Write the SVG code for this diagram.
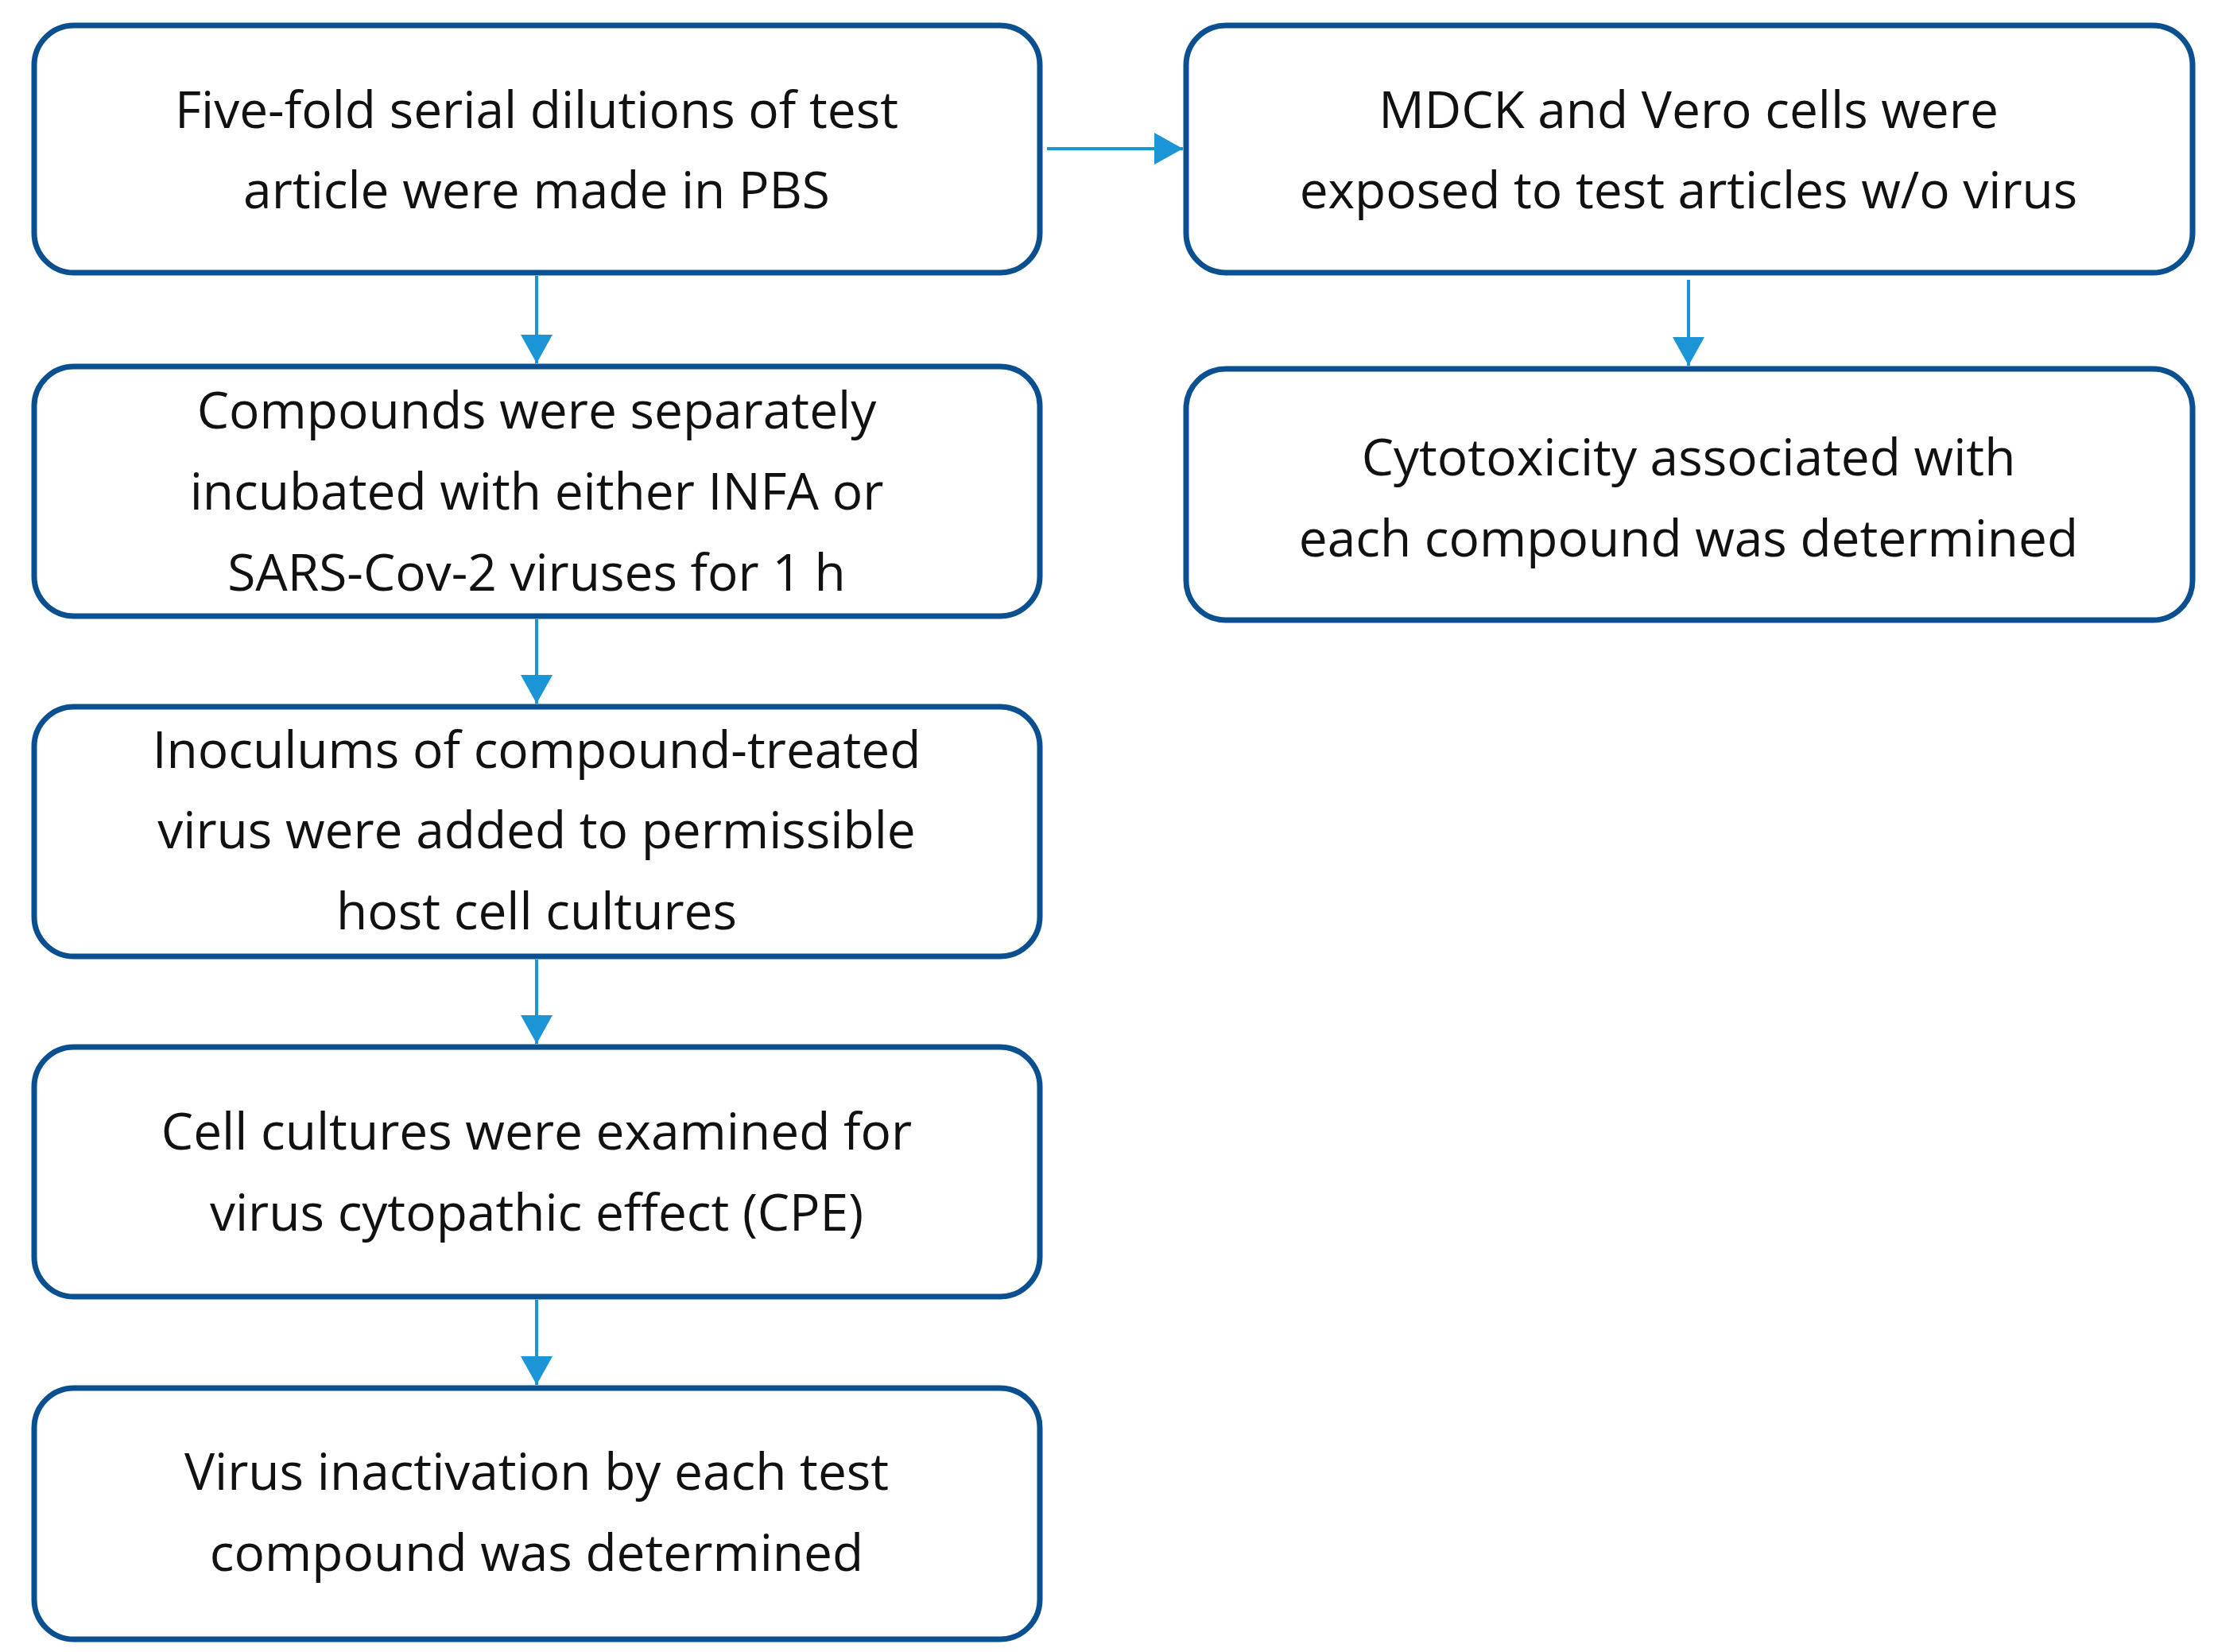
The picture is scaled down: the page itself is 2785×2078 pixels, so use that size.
<svg xmlns="http://www.w3.org/2000/svg" width="2785" height="2078" viewBox="0 0 2785 2078">
<style>
.b{fill:#fff;stroke:#0a5090;stroke-width:7}
.t{font-family:"Open Sans","Liberation Sans",sans-serif;font-size:64px;fill:#111;text-anchor:middle}
.c{stroke:#1b95d6;stroke-width:4;fill:none}
</style>
<defs><marker id="a" markerWidth="10" markerHeight="10" refX="9" refY="5" orient="auto" markerUnits="userSpaceOnUse" viewBox="0 0 10 10"><path d="M0,0 L10,5 L0,10z" fill="#1b95d6"/></marker>
<marker id="m" viewBox="0 0 10 10" refX="10" refY="5" markerWidth="36" markerHeight="40" orient="auto" markerUnits="userSpaceOnUse" preserveAspectRatio="none"><path d="M0,0 L10,5 L0,10z" fill="#1b95d6"/></marker></defs>
<rect width="2785" height="2078" fill="#fff"/>
<g id="n1"><rect class="b" x="43" y="32" width="1265" height="311" rx="50"/><text class="t" x="675" y="161">Five-fold serial dilutions of test</text><text class="t" x="675" y="262">article were made in PBS</text></g>
<g id="n2"><rect class="b" x="43" y="461" width="1265" height="314" rx="50"/><text class="t" x="675" y="539">Compounds were separately</text><text class="t" x="675" y="641">incubated with either INFA or</text><text class="t" x="675" y="743">SARS-Cov-2 viruses for 1 h</text></g>
<g id="n3"><rect class="b" x="43" y="889" width="1265" height="314" rx="50"/><text class="t" x="675" y="966">Inoculums of compound-treated</text><text class="t" x="675" y="1067">virus were added to permissible</text><text class="t" x="675" y="1169">host cell cultures</text></g>
<g id="n4"><rect class="b" x="43" y="1317" width="1265" height="314" rx="50"/><text class="t" x="675" y="1446">Cell cultures were examined for</text><text class="t" x="675" y="1548">virus cytopathic effect (CPE)</text></g>
<g id="n5"><rect class="b" x="43" y="1746" width="1265" height="316" rx="50"/><text class="t" x="675" y="1874">Virus inactivation by each test</text><text class="t" x="675" y="1976">compound was determined</text></g>
<g id="n6"><rect class="b" x="1492" y="32" width="1266" height="311" rx="50"/><text class="t" x="2124" y="161">MDCK and Vero cells were</text><text class="t" x="2124" y="262">exposed to test articles w/o virus</text></g>
<g id="n7"><rect class="b" x="1492" y="464" width="1266" height="316" rx="50"/><text class="t" x="2124" y="598">Cytotoxicity associated with</text><text class="t" x="2124" y="700">each compound was determined</text></g>
<g id="edges">
<path class="c" d="M675,347 V457" marker-end="url(#m)"/>
<path class="c" d="M675,779 V885" marker-end="url(#m)"/>
<path class="c" d="M675,1207 V1313" marker-end="url(#m)"/>
<path class="c" d="M675,1635 V1742" marker-end="url(#m)"/>
<path class="c" d="M1317,187 H1488" marker-end="url(#m)"/>
<path class="c" d="M2124,352 V460" marker-end="url(#m)"/>
</g>
</svg>
